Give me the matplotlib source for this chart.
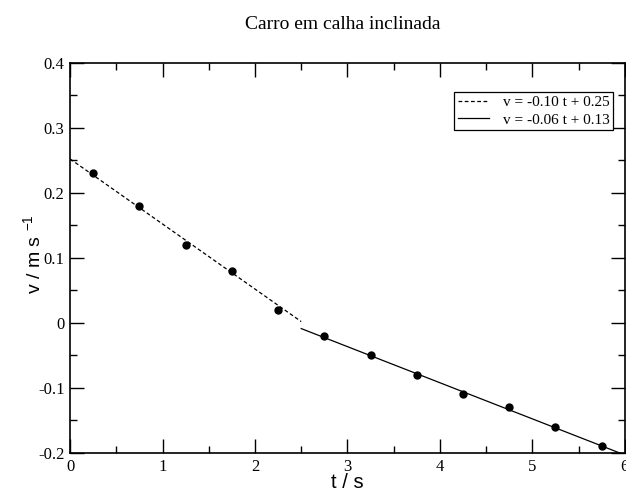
import matplotlib
matplotlib.use("Agg")
import matplotlib.pyplot as plt
import numpy as np
from matplotlib.ticker import MultipleLocator

# --- Datos ---
t_pts = [0.25, 0.75, 1.25, 1.75, 2.25, 2.75, 3.25, 3.75, 4.25, 4.75, 5.25, 5.75]
v_pts = [0.23, 0.18, 0.12, 0.08, 0.02, -0.02, -0.05, -0.08, -0.11, -0.13, -0.16, -0.19]

# ajustes lineales: (pendiente, ordenada, t_ini, t_fin)
ajuste1 = (-0.100, 0.252, 0.0, 2.5)
ajuste2 = (-0.0555, 0.130, 2.5, 6.0)
etiq1 = "v = -0.10 t + 0.25"
etiq2 = "v = -0.06 t + 0.13"

SERIF = ["Liberation Serif", "DejaVu Serif"]
SANS = ["Liberation Sans", "DejaVu Sans"]

fig = plt.figure(figsize=(6.26, 4.91), dpi=100)
ax = fig.add_axes([0.112, 0.0774, 0.886, 0.795])

for (m, b, t0, t1), ls, lab in [(ajuste1, (0, (3, 2)), etiq1), (ajuste2, "-", etiq2)]:
    tt = np.array([t0, t1])
    ax.plot(tt, m * tt + b, color="black", lw=0.9, ls=ls, label=lab)

ax.plot(t_pts, v_pts, "o", color="black", ms=5, zorder=3)

ax.set_xlim(0, 6)
ax.set_ylim(-0.2, 0.4)
ax.xaxis.set_major_locator(MultipleLocator(1))
ax.xaxis.set_minor_locator(MultipleLocator(0.5))
ax.yaxis.set_major_locator(MultipleLocator(0.1))
ax.yaxis.set_minor_locator(MultipleLocator(0.05))
ax.tick_params(which="both", direction="in", top=True, right=True, width=1.0)
ax.tick_params(which="major", length=10, pad=4)
ax.tick_params(which="minor", length=5)
for s in ax.spines.values():
    s.set_linewidth(1.2)

ax.set_xticks(ax.get_xticks())
ax.set_xticklabels([f"{v:g}" for v in ax.get_xticks()], family=SERIF, fontsize=12)
ax.set_yticks(ax.get_yticks())
ax.set_yticklabels([("0" if abs(v) < 1e-9 else f"{v:.1f}") for v in ax.get_yticks()],
                   family=SERIF, fontsize=12)
ax.set_xlim(0, 6)
ax.set_ylim(-0.2, 0.4)

ax.set_xlabel("t / s", family=SANS, fontsize=14.5, labelpad=-1)
ax.set_ylabel("v / m s $^{\\mathregular{-1}}$", family=SANS, fontsize=14)
ax.yaxis.set_label_coords(-0.045, 0.51)
fig.suptitle("Carro em calha inclinada", family=SERIF, fontsize=14, x=0.548, y=0.968)

leg = ax.legend(loc="upper right", bbox_to_anchor=(0.979, 0.926), frameon=True,
                fancybox=False, edgecolor="black", framealpha=1,
                prop={"family": SERIF, "size": 11}, handlelength=2.0,
                borderpad=0.25, labelspacing=0.25, handletextpad=0.9, borderaxespad=0)
leg.get_frame().set_linewidth(0.9)

fig.savefig("out.png", dpi=100)
